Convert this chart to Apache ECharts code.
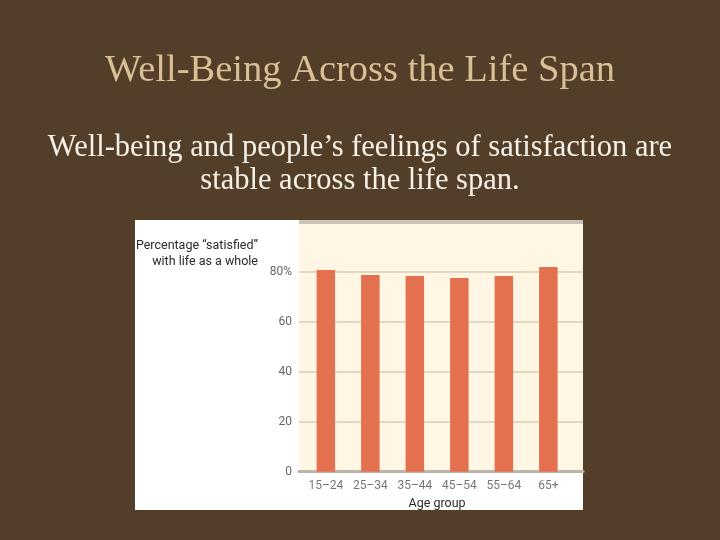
<!DOCTYPE html>
<html>
<head>
<meta charset="utf-8">
<script src="https://cdn.jsdelivr.net/npm/echarts@6/dist/echarts.min.js"></script>
<style>html,body{margin:0;padding:0;background:#533f29;}#c{width:720px;height:540px;}</style>
</head>
<body>
<div id="c"></div>
<script>
var categories = ['15\u201324', '25\u201334', '35\u201344', '45\u201354', '55\u201364', '65+'];
var satisfied = [80.7, 78.7, 78.3, 77.5, 78.3, 81.9];
var yTicks = [0, 20, 40, 60, 80, 100];

var chart = echarts.init(document.getElementById('c'));
chart.setOption({
  backgroundColor: '#533f29',
  animation: false,
  graphic: [
    {type: 'text', x: 360, y: 51, style: {text: 'Well-Being Across the Life Span', align: 'center', verticalAlign: 'top',
      fontFamily: 'Liberation Serif', fontSize: 38.5, fill: '#d9bf93'}},
    {type: 'text', x: 360, y: 131, style: {text: 'Well-being and people\u2019s feelings of satisfaction are\nstable across the life span.', align: 'center', verticalAlign: 'top',
      fontFamily: 'Liberation Serif', fontSize: 30.5, lineHeight: 33, fill: '#f7f2e8'}},
    {type: 'rect', shape: {x: 135, y: 220, width: 448, height: 290}, style: {fill: '#ffffff'}, z: -10},
    {type: 'rect', shape: {x: 299, y: 220, width: 284, height: 4}, style: {fill: '#c8c2b8'}, z: 10},
    {type: 'text', x: 258, y: 238, style: {text: 'Percentage \u201csatisfied\u201d\nwith life as a whole', align: 'right', verticalAlign: 'top', fontFamily: 'Roboto', fontSize: 12.5, fill: '#2a2a2a', lineHeight: 16}}
  ],
  grid: [
    {left: 299, right: 137, top: 221.7, bottom: 68.3, show: true, backgroundColor: '#fff6e3', borderWidth: 0},
    {left: 303.6, width: 267, top: 221.7, bottom: 68.3}
  ],
  xAxis: [
    {type: 'value', gridIndex: 0, min: 0, max: 1, axisLabel: {show: false}, splitLine: {show: false}, axisTick: {show: false},
     axisLine: {show: true, lineStyle: {color: '#bab5ad', width: 3}}},
    {type: 'category', gridIndex: 1, data: categories, axisLine: {show: false}, axisTick: {show: false},
     axisLabel: {color: '#777', fontFamily: 'Roboto', fontSize: 12, margin: 8, interval: 0, hideOverlap: false},
     name: 'Age group', nameLocation: 'middle', nameGap: 26,
     nameTextStyle: {color: '#2a2a2a', fontFamily: 'Roboto', fontSize: 12.5}}
  ],
  yAxis: [
    {type: 'value', gridIndex: 0, min: 0, max: 100, interval: 20,
     axisLine: {show: false}, axisTick: {show: false},
     axisLabel: {color: '#666', fontFamily: 'Roboto', fontSize: 12, margin: 7,
       formatter: function (v) { return v === 100 ? '' : (v === 80 ? '80%' : String(v)); }},
     splitLine: {show: true, lineStyle: {color: '#d9cdb6', width: 1.5}}},
    {type: 'value', gridIndex: 1, min: 0, max: 100, interval: 20, show: false}
  ],
  series: [
    {type: 'bar', xAxisIndex: 1, yAxisIndex: 1, data: satisfied, barWidth: 18.5,
     itemStyle: {color: '#e3714f'}, z: 5}
  ]
});
</script>
</body>
</html>
